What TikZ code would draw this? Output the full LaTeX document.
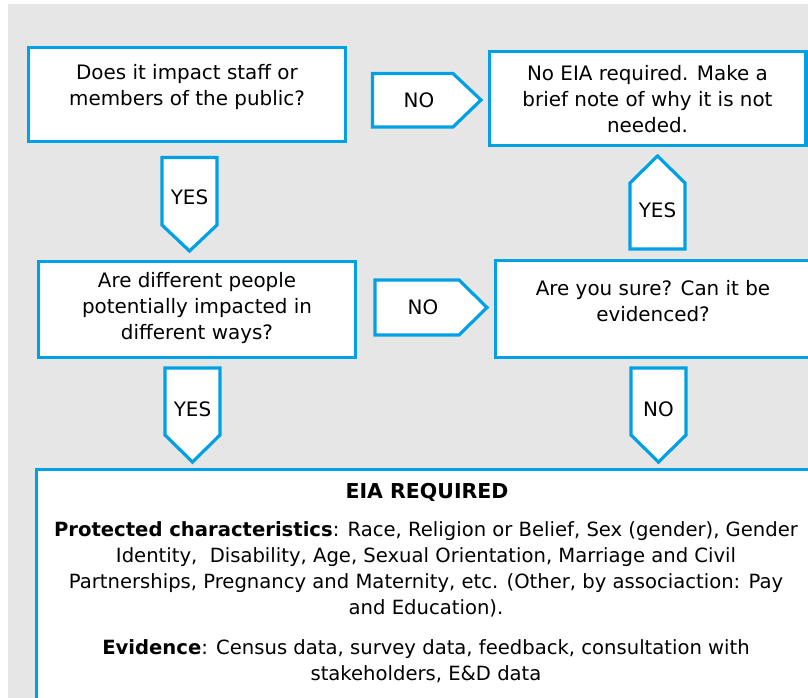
\documentclass[tikz,border=0pt]{standalone}
\usepackage{fontspec}
\setmainfont{DejaVu Sans}
\begin{document}
\begin{tikzpicture}[x=1pt,y=-1pt,
  every node/.style={inner sep=0pt, outer sep=0pt, align=center, text=black},
  flow/.style={draw=eiablue, line width=3.2pt, fill=white, line join=miter},
  qtext/.style={font=\fontsize{19.9}{26}\selectfont},
  btext/.style={font=\fontsize{19.6}{26}\selectfont},
]
\definecolor{eiablue}{RGB}{0,161,228}
\definecolor{panel}{RGB}{230,230,230}
\useasboundingbox (0,0) rectangle (808,697);
\clip (0,0) rectangle (808,697);
% backdrop
\fill[panel] (8,4) rectangle (820,710);

% question and outcome boxes
\draw[flow] (28.5,47.5) rectangle (345.5,141.5);
\node[qtext] (q1) at (187,87) {Does it impact staff or\\members of the public?};

\draw[flow] (489.5,51.5) rectangle (806,145.5);
\node[qtext] (noeia) at (647.5,99) {No EIA required. Make a\\brief note of why it is not\\needed.};

\draw[flow] (38.5,261.5) rectangle (355.5,357.5);
\node[qtext] (q2) at (197,308) {Are different people\\potentially impacted in\\different ways?};

\draw[flow] (495.5,260.5) rectangle (815,357.5);
\node[qtext] (q3) at (653,301) {Are you sure? Can it be\\evidenced?};

\draw[flow] (36.5,469.5) rectangle (820,720);
\node[font=\bfseries\fontsize{20.5}{26}\selectfont] (req) at (427,492) {EIA REQUIRED};
\node[btext] (prot) at (426,569) {\textbf{Protected characteristics}: Race, Religion or Belief, Sex (gender), Gender\\
Identity,\ \ Disability, Age, Sexual Orientation, Marriage and Civil\\
Partnerships, Pregnancy and Maternity, etc. (Other, by associaction: Pay\\
and Education).};
\node[btext] (evid) at (426,661) {\textbf{Evidence}: Census data, survey data, feedback, consultation with\\
stakeholders, E\&D data};

% arrow-shaped connectors
\draw[flow] (372.5,73.5) -- (453,73.5) -- (481,100) -- (453,127) -- (372.5,127) -- cycle;
\node[qtext] (noA) at (419,100.5) {NO};

\draw[flow] (375,280) -- (459,280) -- (487,307.5) -- (459,335) -- (375,335) -- cycle;
\node[qtext] (noB) at (423,307.5) {NO};

\draw[flow] (162,157.5) -- (217,157.5) -- (217,225) -- (189.5,251) -- (162,225) -- cycle;
\node[qtext] (yesA) at (189.5,197) {YES};

\draw[flow] (630,249) -- (685,249) -- (685,183) -- (657.5,156) -- (630,183) -- cycle;
\node[qtext] (yesB) at (657.5,210) {YES};

\draw[flow] (165,368) -- (220,368) -- (220,435) -- (192.5,462) -- (165,435) -- cycle;
\node[qtext] (yesC) at (192.5,409) {YES};

\draw[flow] (631,368) -- (686,368) -- (686,435) -- (658.5,462) -- (631,435) -- cycle;
\node[qtext] (noC) at (658.5,409) {NO};
\end{tikzpicture}
\end{document}
